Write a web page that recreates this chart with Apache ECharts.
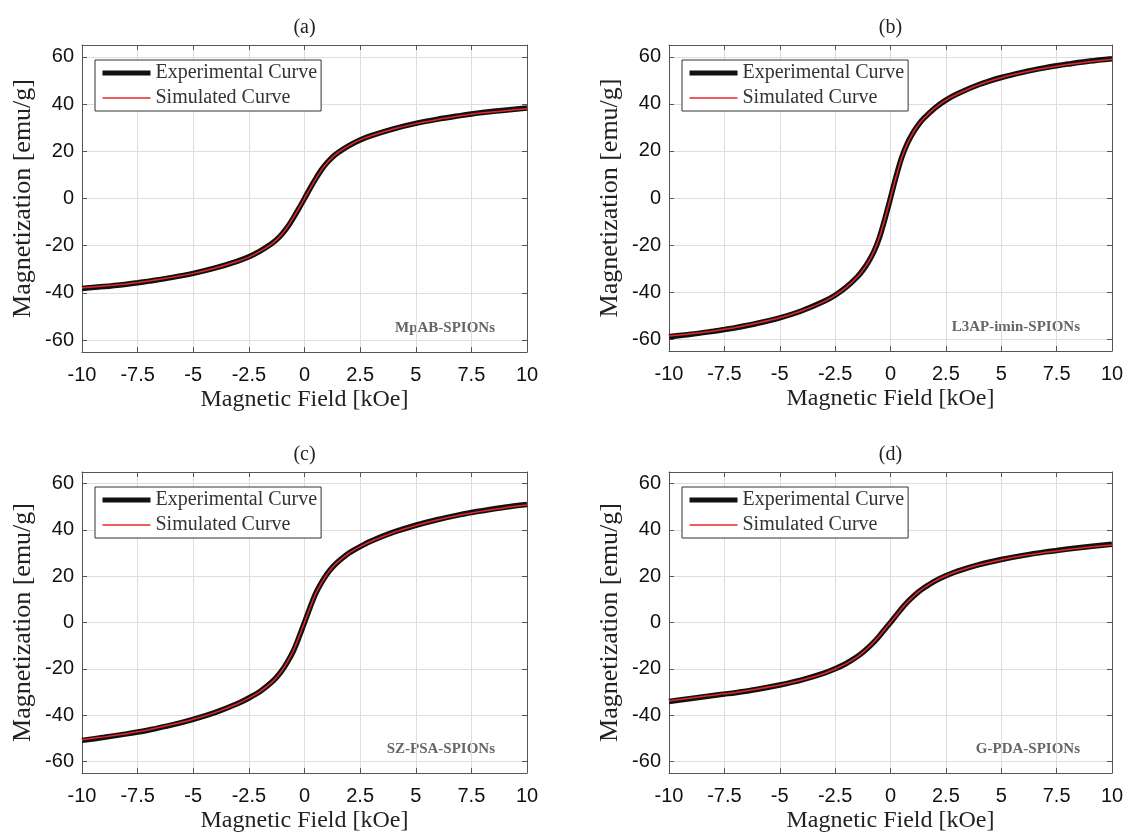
<!DOCTYPE html>
<html>
<head>
<meta charset="utf-8">
<script src="https://cdn.jsdelivr.net/npm/echarts@6/dist/echarts.min.js"></script>
<style>
  html, body { margin: 0; padding: 0; background: #fff; }
  #chart { width: 1129px; height: 834px; }
</style>
</head>
<body>
<div id="chart"></div>
<script>
// magnetic field samples [kOe]
const field = [-10, -9, -8, -7.5, -7, -6, -5, -4, -3, -2.5, -2, -1.5, -1.25, -1, -0.75, -0.5, -0.25,
  0, 0.25, 0.5, 0.75, 1, 1.25, 1.5, 2, 2.5, 3, 4, 5, 6, 7, 7.5, 8, 9, 10];

// magnetization [emu/g]
const expA = [-38.1, -37.3, -36.3, -35.7, -35.0, -33.5, -31.7, -29.4, -26.5, -24.7, -22.3, -19.3, -17.4, -14.9, -11.9, -8.2, -4.2,
  0, 4.3, 8.3, 12.0, 15.0, 17.5, 19.4, 22.4, 24.8, 26.6, 29.5, 31.8, 33.6, 35.1, 35.8, 36.4, 37.4, 38.3];
const simA = [-37.8, -37.1, -36.2, -35.6, -34.9, -33.4, -31.7, -29.4, -26.6, -24.8, -22.4, -19.4, -17.4, -14.9, -11.8, -8.1, -4.1,
  0, 4.2, 8.2, 11.9, 14.9, 17.4, 19.4, 22.4, 24.8, 26.6, 29.4, 31.7, 33.5, 35.0, 35.7, 36.3, 37.2, 38.0];

const expB = [-58.9, -57.9, -56.6, -55.9, -55.1, -53.2, -50.9, -47.9, -43.9, -41.3, -37.9, -33.5, -30.7, -27.2, -22.8, -16.8, -8.8,
  0, 9.0, 17.0, 23.0, 27.5, 31.0, 33.8, 38.2, 41.6, 44.2, 48.2, 51.2, 53.5, 55.4, 56.2, 56.9, 58.2, 59.2];
const simB = [-58.6, -57.7, -56.5, -55.8, -55.0, -53.1, -50.9, -47.9, -44.0, -41.4, -38.0, -33.6, -30.7, -27.2, -22.7, -16.7, -8.7,
  0, 8.9, 16.9, 22.9, 27.4, 31.0, 33.8, 38.2, 41.6, 44.1, 48.1, 51.1, 53.4, 55.2, 56.0, 56.7, 57.9, 58.9];

const expC = [-50.9, -49.6, -48.1, -47.3, -46.4, -44.3, -41.8, -38.8, -35.0, -32.6, -29.8, -26.0, -23.6, -20.6, -16.8, -12.3, -6.4,
  0, 6.5, 12.5, 17.0, 20.8, 23.8, 26.2, 30.0, 32.8, 35.2, 39.0, 42.0, 44.5, 46.6, 47.5, 48.3, 49.8, 51.0];
const simC = [-50.6, -49.4, -48.0, -47.2, -46.3, -44.2, -41.8, -38.8, -35.1, -32.7, -29.9, -26.1, -23.6, -20.6, -16.7, -12.2, -6.3,
  0, 6.4, 12.4, 16.9, 20.7, 23.8, 26.2, 30.0, 32.8, 35.1, 38.9, 41.9, 44.4, 46.4, 47.3, 48.1, 49.6, 50.7];

const expD = [-34.1, -32.8, -31.5, -30.9, -30.3, -28.8, -27.0, -24.8, -21.9, -20.0, -17.7, -14.7, -12.9, -10.8, -8.5, -5.8, -2.9,
  0, 3.0, 6.0, 8.7, 11.0, 13.1, 14.9, 17.9, 20.2, 22.1, 25.0, 27.2, 29.0, 30.5, 31.1, 31.7, 32.8, 33.8];
const simD = [-33.8, -32.6, -31.4, -30.8, -30.2, -28.7, -27.0, -24.8, -22.0, -20.1, -17.8, -14.8, -12.9, -10.8, -8.4, -5.7, -2.8,
  0, 2.9, 5.9, 8.6, 10.9, 13.1, 14.9, 17.9, 20.2, 22.0, 24.9, 27.1, 28.9, 30.3, 30.9, 31.5, 32.6, 33.5];

const panelTitles = ["(a)", "(b)", "(c)", "(d)"];
const sampleNames = ["MpAB-SPIONs", "L3AP-imin-SPIONs", "SZ-PSA-SPIONs", "G-PDA-SPIONs"];
const expSets = [expA, expB, expC, expD];
const simSets = [simA, simB, simC, simD];
const xTicks = [-10, -7.5, -5, -2.5, 0, 2.5, 5, 7.5, 10];
const yTicks = [-60, -40, -20, 0, 20, 40, 60];

const serif = "Liberation Serif";
const sans = "Liberation Sans";

const grids = [
  { left: 82, top: 45, width: 445, height: 307 },
  { left: 669, top: 45, width: 443, height: 306 },
  { left: 82, top: 472, width: 445, height: 301 },
  { left: 669, top: 472, width: 443, height: 301 },
];

const chart = echarts.init(document.getElementById("chart"), null, { renderer: "canvas" });

const xAxis = [];
const yAxis = [];
const series = [];
const legend = [];
const graphic = [];

grids.forEach((g, i) => {
  const common = { gridIndex: i, type: "value", min: -10, max: 10, interval: 2.5 };
  xAxis.push({
    ...common,
    position: "bottom",
    name: "Magnetic Field [kOe]",
    nameLocation: "middle",
    nameGap: 36,
    nameTextStyle: { fontFamily: serif, fontSize: 24, color: "#222" },
    axisLine: { show: true, onZero: false, lineStyle: { color: "#555" } },
    axisTick: { inside: true, length: 5, lineStyle: { color: "#555" }, customValues: xTicks },
    axisLabel: { fontFamily: sans, fontSize: 20, color: "#111", margin: 13, customValues: xTicks },
    splitLine: { show: true, lineStyle: { color: "#dedede", width: 1 } },
  });
  xAxis.push({
    ...common,
    position: "top",
    axisLine: { show: true, onZero: false, lineStyle: { color: "#555" } },
    axisTick: { inside: true, length: 5, lineStyle: { color: "#555" } },
    axisLabel: { show: false },
    splitLine: { show: false },
  });
  const yCommon = { gridIndex: i, type: "value", min: -65, max: 65 };
  yAxis.push({
    ...yCommon,
    position: "left",
    name: "Magnetization [emu/g]",
    nameLocation: "middle",
    nameGap: 46,
    nameRotate: 90,
    nameTextStyle: { fontFamily: serif, fontSize: 26, color: "#222" },
    axisLine: { show: true, onZero: false, lineStyle: { color: "#555" } },
    axisTick: { show: true, inside: true, length: 5, lineStyle: { color: "#555" }, customValues: yTicks },
    axisLabel: { fontFamily: sans, fontSize: 20, color: "#111", margin: 8, customValues: yTicks },
    splitLine: { show: true, lineStyle: { color: "#dedede", width: 1 }, customValues: yTicks },
  });
  yAxis.push({
    ...yCommon,
    position: "right",
    axisLine: { show: true, onZero: false, lineStyle: { color: "#555" } },
    axisTick: { show: true, inside: true, length: 5, lineStyle: { color: "#555" }, customValues: yTicks },
    axisLabel: { show: false },
    splitLine: { show: false },
  });

  series.push({
    name: "Experimental Curve",
    type: "line",
    xAxisIndex: i * 2,
    yAxisIndex: i * 2,
    data: field.map((h, k) => [h, expSets[i][k]]),
    smooth: 0.3,
    symbol: "none",
    lineStyle: { color: "#111", width: 5.5 },
    itemStyle: { color: "#111" },
    z: 3,
  });
  series.push({
    name: "Simulated Curve",
    type: "line",
    xAxisIndex: i * 2,
    yAxisIndex: i * 2,
    data: field.map((h, k) => [h, simSets[i][k]]),
    smooth: 0.3,
    symbol: "none",
    lineStyle: { color: "#e8262b", width: 1.5 },
    itemStyle: { color: "#e8262b" },
    z: 4,
  });

  legend.push({
    data: [
      { name: "Experimental Curve", lineStyle: { width: 5, color: "#111" } },
      { name: "Simulated Curve", lineStyle: { width: 1.5, color: "#e8262b" } },
    ],
    orient: "vertical",
    left: g.left + 13,
    top: g.top + 15,
    itemWidth: 48,
    itemHeight: 14,
    itemGap: 5,
    itemStyle: { opacity: 0 },
    padding: [3, 4, 3, 5],
    backgroundColor: "#fff",
    borderColor: "#333",
    borderWidth: 1,
    borderRadius: 0,
    selectedMode: false,
    textStyle: { fontFamily: serif, fontSize: 20, lineHeight: 19, color: "#333" },
  });

  graphic.push({
    type: "text",
    x: g.left + g.width / 2,
    y: g.top - 17,
    style: { text: panelTitles[i], font: `20px ${serif}`, fill: "#222", textAlign: "center", textVerticalAlign: "middle" },
  });
  graphic.push({
    type: "text",
    x: g.left + g.width - 32,
    y: g.top + g.height - 24,
    style: { text: sampleNames[i], font: `bold 15px ${serif}`, fill: "#666", textAlign: "right", textVerticalAlign: "middle" },
  });
});

chart.setOption({
  backgroundColor: "#fff",
  animation: false,
  grid: grids.map((g) => ({ ...g, show: false })),
  xAxis,
  yAxis,
  legend,
  series,
  graphic,
});
</script>
</body>
</html>
